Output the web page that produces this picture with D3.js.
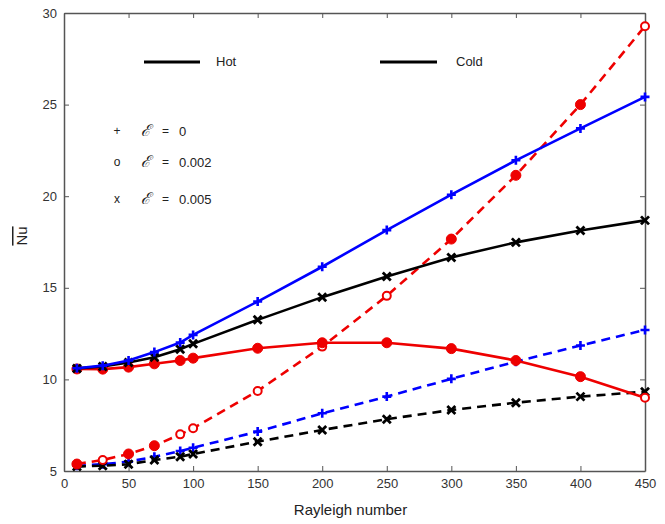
<!doctype html>
<html>
<head>
    <meta charset="utf-8">
    <title>Nu vs Rayleigh number</title>
    <script src="https://d3js.org/d3.v7.min.js"></script>
    <style>
        body {margin:0; background:#fff;}
        svg {display:block;}
        .axis path {stroke:#555;}
        .axis line {stroke:#555;}
        .axis text {font-family:"Liberation Sans", Arial, sans-serif; font-size:13px; fill:#333;}
        .lbl {font-family:"Liberation Sans", Arial, sans-serif; fill:#222;}
    </style>
</head>
<body>
<script>
    "use strict";
    // Rayleigh numbers
    var ra = [10, 30, 50, 70, 90, 100, 150, 200, 250, 300, 350, 400, 450];

    // hot wall (solid)
    var hotE0   = [10.61, 10.75, 11.03, 11.49, 12.01, 12.43, 14.25, 16.15, 18.15, 20.08, 21.96, 23.7, 25.42];
    var hotE002 = [10.57, 10.56, 10.67, 10.85, 11.03, 11.16, 11.7, 12.0, 12.0, 11.68, 11.03, 10.15, 9.0];
    var hotE005 = [10.6, 10.7, 10.92, 11.21, 11.65, 11.94, 13.25, 14.49, 15.62, 16.66, 17.48, 18.13, 18.68];

    // cold wall (dashed)
    var coldE0   = [5.29, 5.37, 5.51, 5.78, 6.09, 6.27, 7.15, 8.15, 9.06, 10.03, 10.97, 11.85, 12.7];
    var coldE002 = [5.38, 5.6, 5.93, 6.38, 7.0, 7.33, 9.37, 11.79, 14.56, 17.66, 21.14, 25.0, 29.28];
    var coldE005 = [5.24, 5.29, 5.37, 5.6, 5.78, 5.93, 6.6, 7.24, 7.83, 8.33, 8.73, 9.06, 9.33];

    // which circle markers are drawn hollow
    var hotE002Open  = [12];
    var coldE002Open = [1, 4, 5, 6, 7, 8, 12];

    var xTicks = [0, 50, 100, 150, 200, 250, 300, 350, 400, 450];
    var yTicks = [5, 10, 15, 20, 25, 30];

    var series = [
        {v: coldE0,   color: "#0000ff", dash: true,  mark: "plus"},
        {v: coldE005, color: "#000",    dash: true,  mark: "cross"},
        {v: coldE002, color: "#ee0000", dash: true,  mark: "circle", open: coldE002Open},
        {v: hotE002,  color: "#ee0000", dash: false, mark: "circle", open: hotE002Open},
        {v: hotE005,  color: "#000",    dash: false, mark: "cross"},
        {v: hotE0,    color: "#0000ff", dash: false, mark: "plus"}
    ];

    var W = 665, H = 524;
    var mLeft = 64, mRight = 645, mTop = 13, mBottom = 471;

    var svg = d3.select("body").append("svg").attr("width", W).attr("height", H);

    var x = d3.scaleLinear().domain([0, 450]).range([mLeft, mRight]);
    var y = d3.scaleLinear().domain([5, 30]).range([mBottom, mTop]);

    // frame with inward ticks on all sides
    svg.append("g").attr("class", "axis").attr("transform", "translate(0," + mBottom + ")")
        .call(d3.axisBottom(x).tickValues(xTicks).tickSizeInner(-5).tickSizeOuter(0).tickPadding(8));
    svg.append("g").attr("class", "axis").attr("transform", "translate(0," + mTop + ")")
        .call(d3.axisTop(x).tickValues(xTicks).tickSizeInner(-5).tickSizeOuter(0).tickFormat(""));
    svg.append("g").attr("class", "axis").attr("transform", "translate(" + mLeft + ",0)")
        .call(d3.axisLeft(y).tickValues(yTicks).tickSizeInner(-5).tickSizeOuter(0).tickPadding(7));
    svg.append("g").attr("class", "axis").attr("transform", "translate(" + mRight + ",0)")
        .call(d3.axisRight(y).tickValues(yTicks).tickSizeInner(-5).tickSizeOuter(0).tickFormat(""));
    svg.selectAll(".axis .domain").attr("stroke-width", 1.5);

    var line = d3.line().x(function(d, i) { return x(ra[i]); }).y(function(d) { return y(d); });

    series.forEach(function(s) {
        svg.append("path")
            .attr("d", line(s.v))
            .attr("fill", "none")
            .attr("stroke", s.color)
            .attr("stroke-width", 2.6)
            .attr("stroke-dasharray", s.dash ? "9,6" : null);

        var g = svg.append("g");
        s.v.forEach(function(val, i) {
            var cx = x(ra[i]), cy = y(val);
            if (s.mark === "plus") {
                g.append("path").attr("d", "M" + (cx - 4.5) + "," + cy + "H" + (cx + 4.5) + "M" + cx + "," + (cy - 4.5) + "V" + (cy + 4.5))
                    .attr("stroke", s.color).attr("stroke-width", 2.6);
            } else if (s.mark === "cross") {
                var r = 4;
                g.append("path").attr("d", "M" + (cx - r) + "," + (cy - r) + "L" + (cx + r) + "," + (cy + r) + "M" + (cx - r) + "," + (cy + r) + "L" + (cx + r) + "," + (cy - r))
                    .attr("stroke", s.color).attr("stroke-width", 2.8);
            } else {
                var open = s.open.indexOf(i) >= 0;
                g.append("circle").attr("cx", cx).attr("cy", cy)
                    .attr("r", open ? 4 : 5)
                    .attr("fill", open ? "#fff" : s.color)
                    .attr("stroke", s.color).attr("stroke-width", open ? 2 : 1);
            }
        });
    });

    // legend: line styles
    var legLines = [{x0: 144, x1: 200, tx: 216, t: "Hot"}, {x0: 380, x1: 437, tx: 456, t: "Cold"}];
    legLines.forEach(function(d) {
        svg.append("line").attr("x1", d.x0).attr("x2", d.x1).attr("y1", 62).attr("y2", 62)
            .attr("stroke", "#000").attr("stroke-width", 3);
        svg.append("text").attr("class", "lbl").attr("x", d.tx).attr("y", 66)
            .attr("font-size", 13).text(d.t);
    });

    // legend: markers
    var legMarks = [{y: 131, m: "+", v: "0"}, {y: 162, m: "o", v: "0.002"}, {y: 199, m: "x", v: "0.005"}];
    legMarks.forEach(function(d) {
        svg.append("text").attr("class", "lbl").attr("x", 117).attr("y", d.y + 4)
            .attr("font-size", 12).attr("text-anchor", "middle").text(d.m);
        svg.append("text").attr("x", 141).attr("y", d.y + 5)
            .attr("font-family", "DejaVu Serif, serif").attr("font-style", "italic")
            .attr("font-size", 16).attr("fill", "#222").text("\u2130");
        svg.append("text").attr("class", "lbl").attr("x", 162).attr("y", d.y + 4)
            .attr("font-size", 12).text("=");
        svg.append("text").attr("class", "lbl").attr("x", 179).attr("y", d.y + 5)
            .attr("font-size", 13).text(d.v);
    });

    // axis titles
    svg.append("text").attr("class", "lbl").attr("x", (mLeft + mRight) / 2 - 4).attr("y", 515)
        .attr("text-anchor", "middle").attr("font-size", 15).text("Rayleigh number");

    svg.append("text").attr("class", "lbl")
        .attr("transform", "translate(27,236) rotate(-90)")
        .attr("text-anchor", "middle").attr("font-size", 15)
        .style("text-decoration", "overline").text("Nu");
</script>
</body>
</html>
